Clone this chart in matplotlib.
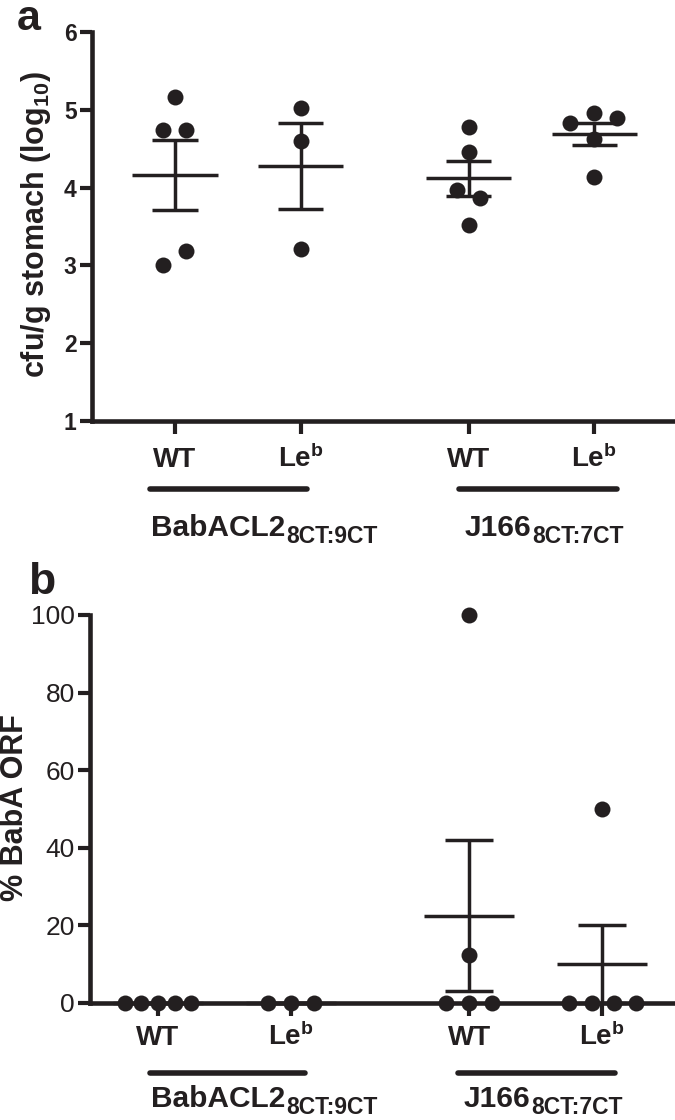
import numpy as np
import matplotlib
matplotlib.use('Agg')
import matplotlib.pyplot as plt
from matplotlib.lines import Line2D

plt.rcParams['font.family'] = ['Liberation Sans', 'DejaVu Sans']
plt.rcParams['mathtext.fontset'] = 'custom'
plt.rcParams['mathtext.rm'] = 'Liberation Sans:bold'
plt.rcParams['mathtext.bf'] = 'Liberation Sans:bold'
plt.rcParams['mathtext.it'] = 'Liberation Sans:bold'
plt.rcParams['mathtext.sf'] = 'Liberation Sans:bold'

# ---------------- data ----------------
group_labels = ['WT', 'Le$^{\\mathrm{b}}$', 'WT', 'Le$^{\\mathrm{b}}$']
strain_names = ['BabACL2', 'J166']
strain_subs = ['8CT:9CT', '8CT:7CT']

# panel a: cfu/g stomach (log10)
a_wt1 = [5.16, 4.74, 4.74, 3.18, 3.00]
a_leb1 = [5.02, 4.60, 3.21]
a_wt2 = [4.78, 4.46, 3.97, 3.86, 3.52]
a_leb2 = [4.83, 4.96, 4.89, 4.63, 4.14]
a_mean = [4.16, 4.28, 4.12, 4.69]
a_sem = [0.45, 0.55, 0.225, 0.145]
a_yticks = [1, 2, 3, 4, 5, 6]

# panel b: % BabA ORF
b_wt1 = [0, 0, 0, 0, 0]
b_leb1 = [0, 0, 0]
b_wt2 = [100, 12.5, 0, 0, 0]
b_leb2 = [50, 0, 0, 0, 0]
b_mean = [0, 0, 22.5, 10]
b_sem = [0, 0, 19.5, 10]
b_yticks = [0, 20, 40, 60, 80, 100]

# ---------------- layout / style ----------------
C = '#231f20'
W, H = 675, 1120
positions = np.array([1.0, 2.0, 3.34, 4.34])
a_offsets = [[0, -0.095, 0.09, 0.09, -0.095], [0, 0, 0], [0, 0, -0.095, 0.09, 0], [-0.19, 0, 0.18, 0, 0]]
b_offsets = [[-0.25, -0.125, 0, 0.125, 0.25], [-0.175, 0, 0.175], [0, 0, -0.175, 0, 0.175],
             [0, -0.252, -0.08, 0.086, 0.252]]


def fx(x):
    return x / W


def fy(y):
    return 1 - y / H


fig = plt.figure(figsize=(6.75, 11.2), dpi=100)
renderer = fig.canvas.get_renderer()

ax_a = fig.add_axes([fx(92), fy(421), 1 - fx(92), (421 - 32) / H])
ax_b = fig.add_axes([fx(90), fy(1003), 1 - fx(90), (1003 - 615) / H])


def draw_panel(ax, data, offsets, mean, sem):
    for vals, offs, p in zip(data, offsets, positions):
        ax.plot(p + np.array(offs), vals, 'o', ms=11.5, color=C, mec='none',
                clip_on=False, zorder=3)
    mean = np.array(mean, float)
    sem = np.array(sem, float)
    kw = dict(color=C, lw=2.5, clip_on=False, zorder=4, capstyle='butt')
    ax.hlines(mean, positions - 0.34, positions + 0.34, **kw)
    ax.vlines(positions, mean - sem, mean + sem, **kw)
    ax.hlines(mean + sem, positions - 0.18, positions + 0.18, **kw)
    ax.hlines(mean - sem, positions - 0.18, positions + 0.18, **kw)
    for s in ['top', 'right']:
        ax.spines[s].set_visible(False)
    for s in ['left', 'bottom']:
        ax.spines[s].set_linewidth(3.3)
        ax.spines[s].set_color(C)
    ax.set_xticks(positions)
    ax.set_xticklabels([])
    ax.tick_params(axis='both', direction='out', length=9, width=3, color=C, pad=2)


draw_panel(ax_a, [a_wt1, a_leb1, a_wt2, a_leb2], a_offsets, a_mean, a_sem)
ax_a.set_ylim(1, 6)
ax_a.set_xlim((92 - 49.5) / 125.5, (675 - 49.5) / 125.5)
ax_a.set_yticks(a_yticks)
ax_a.set_yticklabels([str(t) for t in a_yticks], fontsize=16.5, fontweight='bold', color=C)

draw_panel(ax_b, [b_wt1, b_leb1, b_wt2, b_leb2], b_offsets, b_mean, b_sem)
ax_b.set_ylim(0, 100)
ax_b.set_xlim((90 - 25) / 133, (675 - 25) / 133)
ax_b.set_yticks(b_yticks)
ax_b.set_yticklabels([str(t) for t in b_yticks], fontsize=19, color=C)

# group labels under ticks
for ax, yfrac in [(ax_a, -46 / 389), (ax_b, -42 / 388)]:
    tr = ax.get_xaxis_transform()
    for p, lab in zip(positions, group_labels):
        ax.text(p, yfrac, lab, transform=tr, ha='center', va='baseline',
                fontsize=20, fontweight='bold', color=C)

# strain bars and labels (figure pixel layout)
for ybar, ytxt, bars in [(489, 536, [(150, 307), (459, 617)]),
                         (1073, 1107, [(150, 305), (458, 615)])]:
    for (x0, x1), name, sub, dx in zip(bars, strain_names, strain_subs, [1, 6]):
        fig.add_artist(Line2D([fx(x0), fx(x1)], [fy(ybar), fy(ybar)], lw=4,
                              color=C, solid_capstyle='round'))
        t = fig.text(fx(x0 + dx), fy(ytxt), name, ha='left', va='baseline',
                     fontsize=21.5, fontweight='bold', color=C)
        bb = t.get_window_extent(renderer)
        fig.text(bb.x1 / W + 0.001, fy(ytxt + 7), sub, ha='left', va='baseline',
                 fontsize=16.5, fontweight='bold', color=C)

# axis titles
fig.text(fx(36), fy(225), 'cfu/g stomach (log$_{10}$)', rotation=90, ha='center', va='center',
         fontsize=22, fontweight='bold', color=C)
fig.text(fx(15), fy(808), '% BabA ORF', rotation=90, ha='center', va='center',
         fontsize=22, fontweight='bold', color=C)

# panel letters
fig.text(fx(17), fy(30), 'a', fontsize=31, fontweight='bold', color=C, va='baseline')
fig.text(fx(28), fy(594), 'b', fontsize=32, fontweight='bold', color=C, va='baseline')

fig.savefig('out.png', dpi=100)
